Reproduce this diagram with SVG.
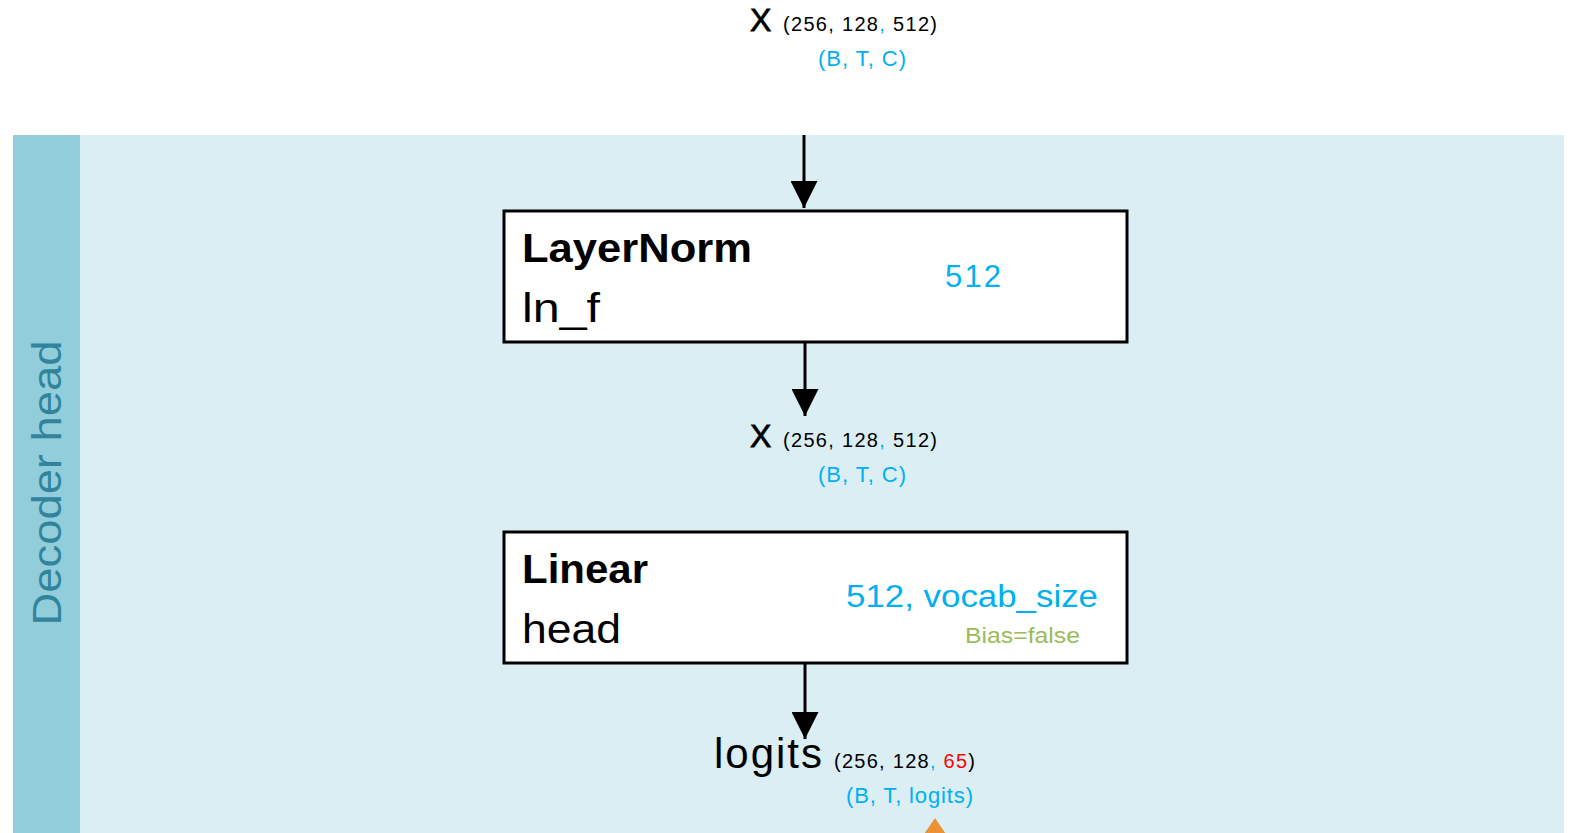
<svg xmlns="http://www.w3.org/2000/svg" width="1570" height="833" viewBox="0 0 1570 833">
  <style>
    text { font-family: "Liberation Sans", Arial, sans-serif; }
    .box { fill: #ffffff; stroke: #000000; stroke-width: 3; }
    .title { font-size: 41px; font-weight: bold; fill: #000; }
    .name { font-size: 41px; fill: #000; }
    .param { font-size: 31px; fill: #00B0F0; }
    .var { font-size: 32px; fill: #000; stroke: #000; stroke-width: 0.8; }
    .shape { font-size: 20px; fill: #000; }
    .dims { font-size: 22px; fill: #00B0F0; }
    .blue { fill: #00B0F0; }
    .red { fill: #FF0000; }
    .edge { stroke: #000; stroke-width: 3; fill: none; }
  </style>
  <defs>
    <marker id="arrow" markerWidth="9" markerHeight="9" refX="9" refY="4.5" orient="auto" markerUnits="strokeWidth">
      <path d="M0,0 L9,4.5 L0,9 Z" fill="#000"/>
    </marker>
  </defs>

  <rect width="1570" height="833" fill="#ffffff"/>

  <!-- decoder head section -->
  <g id="section">
    <rect x="13" y="135" width="1551" height="698" fill="#DAEEF3"/>
    <rect x="13" y="135" width="67" height="698" fill="#92CDDC"/>
    <text transform="translate(61,483) rotate(-90)" text-anchor="middle" font-size="40" fill="#31849B" textLength="285" lengthAdjust="spacingAndGlyphs">Decoder head</text>
  </g>

  <!-- input tensor -->
  <g id="input">
    <text x="750" y="31" class="var">X</text>
    <text x="783" y="31" class="shape" textLength="154">(256, 128<tspan class="blue">,</tspan> 512)</text>
    <text x="818" y="66" class="dims" textLength="88">(B, T, C)</text>
  </g>

  <g id="ln_f">
    <rect x="504" y="211" width="623" height="131" class="box"/>
    <text x="522" y="262" class="title" textLength="230" lengthAdjust="spacingAndGlyphs">LayerNorm</text>
    <text x="522" y="322" class="name" textLength="78" lengthAdjust="spacingAndGlyphs">ln_f</text>
    <text x="945" y="287" class="param" textLength="56">512</text>
  </g>

  <g id="x_norm">
    <text x="750" y="447" class="var">X</text>
    <text x="783" y="447" class="shape" textLength="154">(256, 128<tspan class="blue">,</tspan> 512)</text>
    <text x="818" y="482" class="dims" textLength="88">(B, T, C)</text>
  </g>

  <g id="head">
    <rect x="504" y="532" width="623" height="131" class="box"/>
    <text x="522" y="583" class="title" textLength="126" lengthAdjust="spacingAndGlyphs">Linear</text>
    <text x="522" y="643" class="name" textLength="99" lengthAdjust="spacingAndGlyphs">head</text>
    <text x="846" y="607" class="param" textLength="252" lengthAdjust="spacingAndGlyphs">512, vocab_size</text>
    <text x="965" y="643" font-size="22" fill="#9BBB59" textLength="115" lengthAdjust="spacingAndGlyphs">Bias=false</text>
  </g>

  <g id="logits">
    <text x="714" y="768" font-size="42" fill="#000" textLength="108">logits</text>
    <text x="834" y="768" class="shape" textLength="141">(256, 128<tspan class="blue">,</tspan> <tspan class="red">65</tspan>)</text>
    <text x="846" y="803" class="dims" textLength="127">(B, T, logits)</text>
  </g>

  <!-- connectors -->
  <g id="connectors">
    <line x1="804" y1="135" x2="804" y2="208" class="edge" marker-end="url(#arrow)"/>
    <line x1="805" y1="343" x2="805" y2="416" class="edge" marker-end="url(#arrow)"/>
    <line x1="805" y1="664" x2="805" y2="739" class="edge" marker-end="url(#arrow)"/>
    <path d="M935,818 L950,840 L920,840 Z" fill="#ED9234"/>
  </g>
</svg>
